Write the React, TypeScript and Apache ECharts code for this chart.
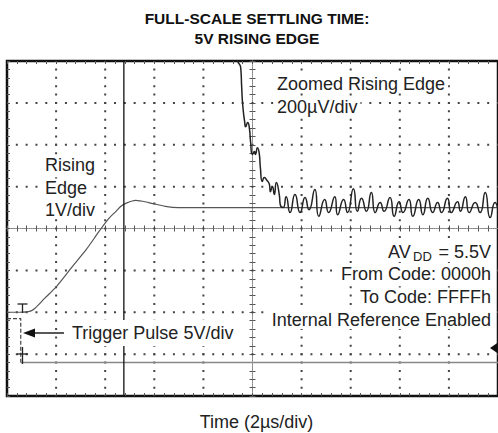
import React, { useEffect, useRef } from "react";
import * as echarts from "echarts";

// Time axis in µs (2 µs/div), vertical axis in screen divisions (8 div)
const risingT = [-10, -9.48, -9.07, -8.87, -8.47, -7.98, -7.34, -6.77, -6.25, -5.85, -5.56, -5.36, -5.16, -4.76, -4.23, -3.55, -3.02, 10];
const risingV = [-2.0, -2.0, -1.98, -1.91, -1.67, -1.38, -0.91, -0.5, -0.07, 0.24, 0.41, 0.53, 0.6, 0.67, 0.62, 0.53, 0.5, 0.5];

const trigHighT = [-10, -9.44, -9.44];
const trigHighV = [-2.15, -2.15, -3.2];
const trigLowT = [-9.44, 10];
const trigLowV = [-3.2, -3.2];

const stepT = [-5.24, -5.24];
const stepV = [-5, 5];

const zoomT = [
  -0.69, -0.6, -0.48, -0.44, -0.4, -0.32, -0.28, -0.2, -0.12, -0.08, 0, 0.08, 0.12, 0.2, 0.28, 0.32, 0.4, 0.48, 0.56,
  0.69, 0.73, 0.81, 0.89, 0.97, 1.09, 1.13, 1.25, 1.37, 1.53, 1.73, 1.94, 2.14, 2.3, 2.54, 2.7, 2.94, 3.1, 3.35, 3.47,
  3.71, 3.87, 4.11, 4.27, 4.44, 4.64, 4.84, 5.0, 5.2, 5.36, 5.6, 5.77, 5.97, 6.13, 6.37, 6.53, 6.77, 6.94, 7.14, 7.34,
  7.54, 7.7, 7.94, 8.1, 8.35, 8.47, 8.67, 8.83, 9.07, 9.27, 9.48, 9.68, 9.88, 10.0,
];
const zoomV = [
  4.15, 3.99, 3.84, 3.37, 2.96, 2.55, 2.43, 2.53, 2.36, 2.08, 1.77, 1.84, 1.77, 1.93, 1.77, 1.46, 1.12, 1.22, 1.17,
  1.05, 0.88, 1.0, 0.81, 1.1, 0.81, 0.57, 0.5, 0.76, 0.38, 0.81, 0.38, 0.74, 0.45, 0.93, 0.29, 0.69, 0.38, 0.76, 0.33,
  0.69, 0.38, 0.95, 0.41, 0.72, 0.41, 0.86, 0.38, 0.62, 0.41, 0.74, 0.29, 0.64, 0.38, 0.69, 0.29, 0.69, 0.33, 0.72, 0.38,
  0.62, 0.38, 0.72, 0.38, 0.64, 0.41, 0.76, 0.38, 0.62, 0.38, 0.86, 0.26, 0.62, 0.45,
];

// graticule: major division positions (off-centre lines)
const xDivs = [-8, -6, -4, -2, 2, 4, 6, 8];
const yDivs = [-3, -2, -1, 1, 2, 3];

const zip = (a: number[], b: number[]) => a.map((v, i) => [v, b[i]]);

const FONT = "Liberation Sans, Arial, Helvetica, sans-serif";

function xAx(extra: any) {
  return {
    type: "value",
    min: -10,
    max: 10,
    interval: 2,
    axisLabel: { show: false },
    splitLine: { show: false },
    axisLine: { show: false, onZero: false },
    axisTick: { show: false },
    minorTick: { show: false },
    ...extra,
  };
}
function yAx(extra: any) {
  return {
    type: "value",
    min: -4,
    max: 4,
    interval: 1,
    axisLabel: { show: false },
    splitLine: { show: false },
    axisLine: { show: false, onZero: false },
    axisTick: { show: false },
    minorTick: { show: false },
    ...extra,
  };
}

const tickStyle = { color: "#555", width: 1 };
const centerLine = { color: "#888", width: 1, type: [1, 1.2] };

function txt(text: string, x: number, y: number, align: string, size = 18, extra: any = {}) {
  return {
    type: "text",
    x,
    y,
    z: 100,
    style: {
      text,
      fontFamily: FONT,
      fontSize: size,
      fill: "#222",
      align,
      verticalAlign: "middle",
      backgroundColor: "#fff",
      padding: [0, 3],
      ...extra,
    },
  };
}
function seg(x1: number, y1: number, x2: number, y2: number, w = 1.2) {
  return { type: "line", z: 100, shape: { x1, y1, x2, y2 }, style: { stroke: "#222", lineWidth: w } };
}

export default function App() {
  const ref = useRef<HTMLDivElement>(null);
  useEffect(() => {
    const chart = echarts.init(ref.current!, null, { renderer: "svg" });
    chart.setOption({
      animation: false,
      backgroundColor: "#fff",
      grid: { left: 7, top: 61, width: 496, height: 335, show: true, borderColor: "#111", borderWidth: 2.5, backgroundColor: "transparent" },
      xAxis: [
        xAx({
          position: "bottom",
          axisLine: { show: true, onZero: true, onZeroAxisIndex: 0, lineStyle: centerLine },
          axisTick: { show: true, inside: true, length: 3, lineStyle: tickStyle },
          minorTick: { show: true, splitNumber: 5, length: 3, lineStyle: tickStyle },
        }),
        xAx({
          position: "bottom",
          axisLine: { show: true, onZero: true, onZeroAxisIndex: 0, lineStyle: centerLine },
          axisTick: { show: true, inside: false, length: 3, lineStyle: tickStyle },
          minorTick: { show: true, splitNumber: 5, length: 3, lineStyle: tickStyle },
        }),
        xAx({
          position: "top",
          axisTick: { show: true, inside: true, length: 3, lineStyle: tickStyle },
          minorTick: { show: true, splitNumber: 5, length: 3, lineStyle: tickStyle },
        }),
        xAx({
          position: "bottom",
          axisTick: { show: true, inside: true, length: 3, lineStyle: tickStyle },
          minorTick: { show: true, splitNumber: 5, length: 3, lineStyle: tickStyle },
        }),
      ],
      yAxis: [
        yAx({
          position: "left",
          axisLine: { show: true, onZero: true, onZeroAxisIndex: 0, lineStyle: centerLine },
          axisTick: { show: true, inside: true, length: 3, lineStyle: tickStyle },
          minorTick: { show: true, splitNumber: 5, length: 3, lineStyle: tickStyle },
        }),
        yAx({
          position: "left",
          axisLine: { show: true, onZero: true, onZeroAxisIndex: 0, lineStyle: centerLine },
          axisTick: { show: true, inside: false, length: 3, lineStyle: tickStyle },
          minorTick: { show: true, splitNumber: 5, length: 3, lineStyle: tickStyle },
        }),
        yAx({
          position: "left",
          axisTick: { show: true, inside: true, length: 3, lineStyle: tickStyle },
          minorTick: { show: true, splitNumber: 5, length: 3, lineStyle: tickStyle },
        }),
      ],
      series: [
        {
          name: "Graticule",
          type: "custom",
          silent: true,
          z: 1,
          data: [0],
          renderItem: (params: any, api: any) => {
            const children: any[] = [];
            const top = api.coord([0, 4])[1];
            const bottom = api.coord([0, -4])[1];
            const left = api.coord([-10, 0])[0];
            const right = api.coord([10, 0])[0];
            const dx = api.coord([0.4, 0])[0] - api.coord([0, 0])[0];
            const dy = api.coord([0, -0.2])[1] - api.coord([0, 0])[1];
            xDivs.forEach((v) => {
              const x = api.coord([v, 0])[0];
              children.push({
                type: "line",
                shape: { x1: x, y1: top, x2: x, y2: bottom },
                style: { stroke: "#444", lineWidth: 2, lineDash: [2, dy - 2], lineDashOffset: 1 },
              });
            });
            yDivs.forEach((v) => {
              const y = api.coord([0, v])[1];
              children.push({
                type: "line",
                shape: { x1: left, y1: y, x2: right, y2: y },
                style: { stroke: "#444", lineWidth: 2, lineDash: [2, dx - 2], lineDashOffset: 1 },
              });
            });
            return { type: "group", children };
          },
        },
        {
          name: "Rising Edge 1V/div",
          type: "line",
          data: zip(risingT, risingV),
          symbol: "none",
          smooth: 0.3,
          clip: true,
          lineStyle: { color: "#555", width: 1.2 },
        },
        {
          name: "Trigger high",
          type: "line",
          data: zip(trigHighT, trigHighV),
          symbol: "none",
          clip: true,
          lineStyle: { color: "#444", width: 1.2, type: [4, 2] },
        },
        {
          name: "Trigger Pulse 5V/div",
          type: "line",
          data: zip(trigLowT, trigLowV),
          symbol: "none",
          clip: true,
          lineStyle: { color: "#888", width: 1.5 },
        },
        {
          name: "Zoomed step",
          type: "line",
          data: zip(stepT, stepV),
          symbol: "none",
          clip: true,
          lineStyle: { color: "#111", width: 1.3 },
        },
        {
          name: "Zoomed Rising Edge 200µV/div",
          type: "line",
          data: zip(zoomT, zoomV),
          symbol: "none",
          smooth: 0.6,
          clip: true,
          lineStyle: { color: "#222", width: 1.5 },
        },
      ],
      graphic: [
        { type: "text", x: 257, y: 18, z: 100, style: { text: "FULL-SCALE SETTLING TIME:", fontFamily: FONT, fontWeight: "bold", fontSize: 15.5, fill: "#111", align: "center", verticalAlign: "middle" } },
        { type: "text", x: 257, y: 38, z: 100, style: { text: "5V RISING EDGE", fontFamily: FONT, fontWeight: "bold", fontSize: 15.5, fill: "#111", align: "center", verticalAlign: "middle" } },
        { type: "text", x: 256.5, y: 421.5, z: 100, style: { text: "Time (2\u00b5s/div)", fontFamily: FONT, fontSize: 18, fill: "#222", align: "center", verticalAlign: "middle" } },
        txt("Rising", 42, 164.5, "left"),
        txt("Edge", 42, 187.5, "left"),
        txt("1V/div", 42, 209.5, "left"),
        txt("Zoomed Rising Edge", 274, 83.5, "left"),
        txt("200\u00b5V/div", 274, 106.5, "left"),
        { type: "rect", z: 99, shape: { x: 385, y: 242, width: 110, height: 20 }, style: { fill: "#fff" } },
        { type: "text", x: 388, y: 251.5, z: 100, style: { text: "AV", fontFamily: FONT, fontSize: 18, fill: "#222", align: "left", verticalAlign: "middle" } },
        { type: "text", x: 413, y: 256.5, z: 101, style: { text: "DD", fontFamily: FONT, fontSize: 13, fill: "#222", align: "left", verticalAlign: "middle" } },
        { type: "text", x: 491, y: 251.5, z: 100, style: { text: "= 5.5V", fontFamily: FONT, fontSize: 18, fill: "#222", align: "right", verticalAlign: "middle" } },
        txt("From Code: 0000h", 494, 274, "right"),
        txt("To Code: FFFFh", 494, 296.5, "right"),
        txt("Internal Reference Enabled", 494, 320, "right"),
        txt("Trigger Pulse 5V/div", 69, 333, "left", 18, { padding: [4, 3] }),
        // trigger arrow
        seg(64, 333, 32, 333, 1.5),
        { type: "polygon", z: 100, shape: { points: [[23, 333], [35, 328.5], [35, 337.5]] }, style: { fill: "#111" } },
        // trigger "T" marker and cursor
        seg(17.5, 304, 27.5, 304, 1.3),
        seg(22.5, 304, 22.5, 313, 1.3),
        seg(17, 354, 28, 354, 1.3),
        seg(22.5, 347, 22.5, 364, 1.3),
        // ground level marker
        { type: "polygon", z: 100, shape: { points: [[490, 348], [498, 342.5], [498, 353.5]] }, style: { fill: "#111" } },
      ],
    });
    return () => chart.dispose();
  }, []);
  return (
    <div
      ref={ref}
      style={{ position: "fixed", left: 0, top: 0, width: 498, height: 433, background: "#fff" }}
    />
  );
}
